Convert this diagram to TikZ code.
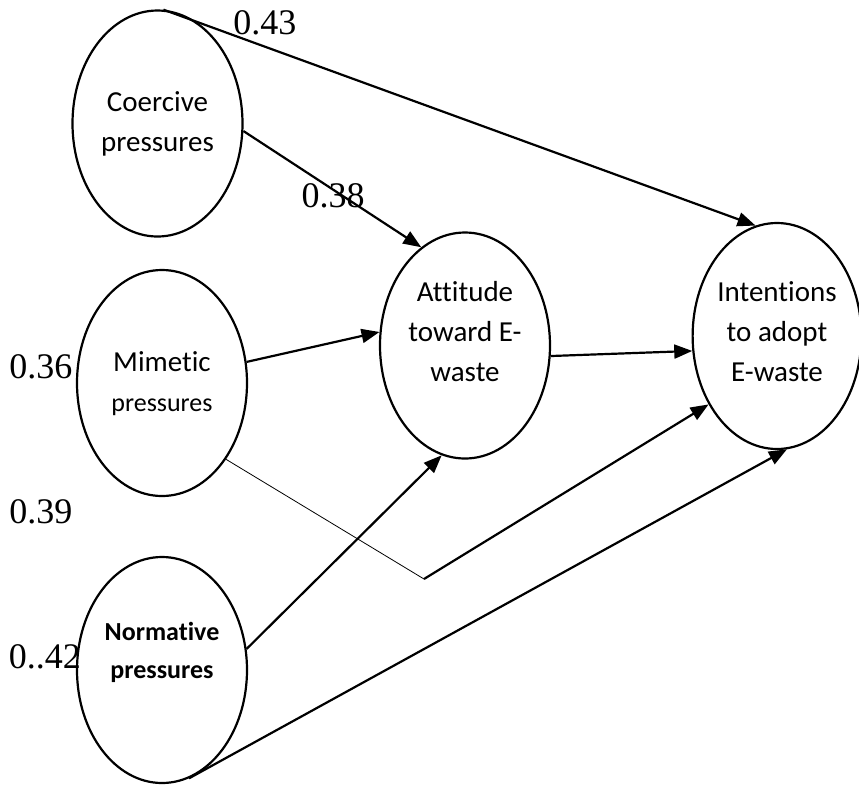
\documentclass[tikz,border=0pt]{standalone}
\usepackage{fontspec}
\setmainfont{Liberation Serif}
\newfontfamily\calibri[Ligatures=NoCommon]{Carlito}
\usetikzlibrary{positioning,shapes,arrows.meta}
\newcommand{\lift}[2]{\raisebox{\dimexpr#1-3.6pt\relax}[0pt][0pt]{\begin{tabular}{@{}c@{}}#2\end{tabular}}}

\begin{document}
\begin{tikzpicture}[%
        x=0.5pt,y=-0.5pt,
        ->,
        >={Triangle[length=9pt,width=7pt]},
        line width=1.1pt,
        construct/.style={%
          ellipse,
          draw,
          inner sep=0pt,
          minimum width=85pt,
          minimum height=113pt,
          font=\calibri\fontsize{14.5}{20}\selectfont
        },
        coef/.style={inner sep=0pt,font=\fontsize{18}{20}\selectfont}
      ]
      \useasboundingbox (0,0) rectangle (859,784);

      \node[construct] (coer) at (157.5,123.5) {\lift{0pt}{Coercive\\pressures}};
      \node[construct] (mim) at (162,383) {\lift{0pt}{Mimetic\\{\fontsize{13}{20}\selectfont pressures}}};
      \node[construct,font=\calibri\bfseries\fontsize{13}{19}\selectfont] (norm) at (162,670) {\lift{9.5pt}{Normative\\pressures}};
      \node[construct] (att) at (465,345.5) {\lift{6pt}{Attitude\\toward E-\\waste}};
      \node[construct,minimum width=80pt] (int) at (777,336) {\lift{1.5pt}{Intentions\\to adopt\\E-waste}};
      \coordinate (turn) at (424,579);

      \node[coef] (c43) at (265,23) {0.43};
      \node[coef] (c38) at (333,196) {0.38};
      \node[coef] (c36) at (41,367) {0.36};
      \node[coef] (c39) at (41,512) {0.39};
      \node[coef] (c42) at (45,657) {0..42};

      \path (coer.87) edge [] node {} (int.101)
      (coer.-5) edge [] node {} (att.114)
      (mim.14) edge [] node {} (att.171)
      (att.-7) edge [] node {} (int.190)
      (norm.14) edge [] node {} (att.258)
      (norm.-76) edge [] node {} (int.-85)
      (turn) edge [] node {} (int.-135);
      \draw[-,thin] (mim.-50) -- (turn);

    \end{tikzpicture}
\end{document}
